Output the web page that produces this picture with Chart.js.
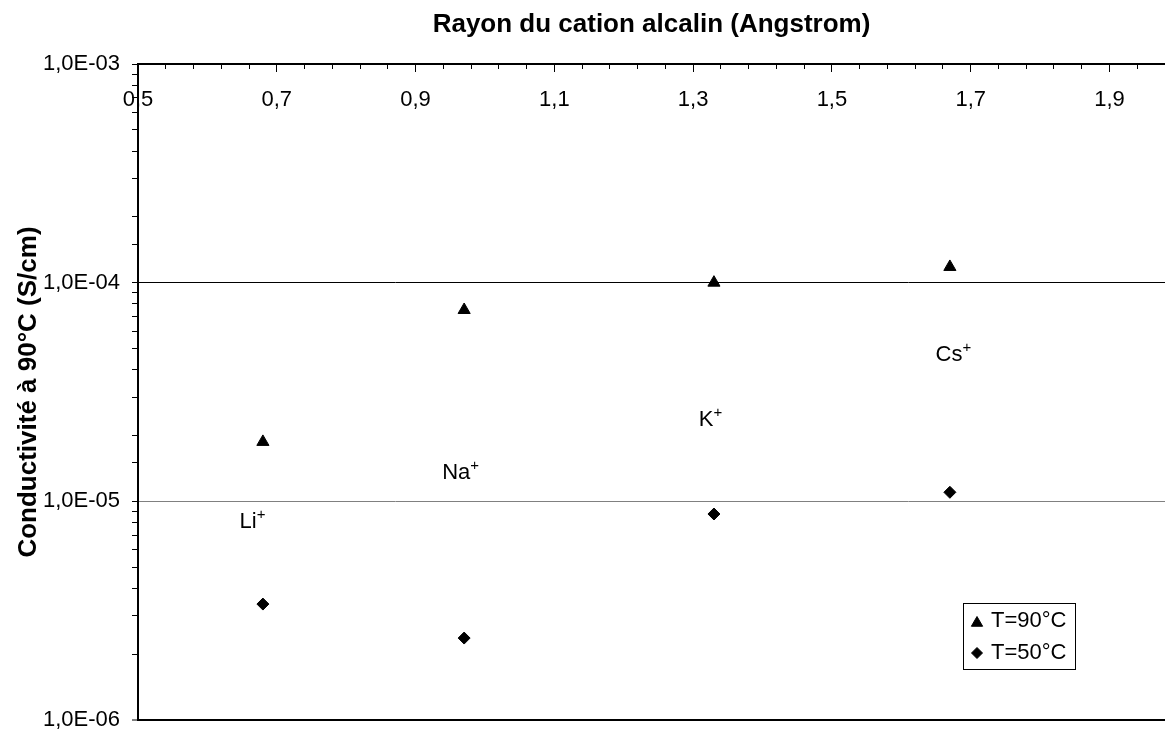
<!DOCTYPE html>
<html>
<head>
<meta charset="utf-8">
<title>Conductivité</title>
<script src="https://cdn.jsdelivr.net/npm/chart.js@4/dist/chart.umd.min.js"></script>
<style>
  html, body { margin: 0; padding: 0; background: #fff; }
  canvas { display: block; }
</style>
</head>
<body>
<canvas id="conductChart" width="1165" height="729"></canvas>
<script>
// rayon ionique des cations (Angstrom)
const cations = ['Li', 'Na', 'K', 'Cs'];
const rayons = [0.68, 0.97, 1.33, 1.67];
// conductivité (S/cm)
const cond90 = [1.87e-5, 7.5e-5, 1.0e-4, 1.18e-4];
const cond50 = [3.39e-6, 2.37e-6, 8.75e-6, 1.10e-5];
// position des étiquettes des cations (coordonnées des axes)
const labelX = [0.665, 0.965, 1.325, 1.675];
const labelY = [8.05e-6, 1.35e-5, 2.36e-5, 4.67e-5];
// graduations de l'axe des x
const xMin = 0.5, xMax = 1.98;
const xMajorTicks = [0.5, 0.7, 0.9, 1.1, 1.3, 1.5, 1.7, 1.9];
const xMinorStep = 0.04;

const FONT = "'Liberation Sans', Arial, Helvetica, sans-serif";
Chart.defaults.font.family = FONT;
Chart.defaults.color = '#000';

const xMinorTicks = [];
for (let v = xMin; v <= xMax + 1e-9; v += xMinorStep) xMinorTicks.push(Math.round(v * 100) / 100);

const isDecade = v => Math.abs(Math.log10(v) - Math.round(Math.log10(v))) < 1e-9;
const sciLabel = v => {
  const e = Math.round(Math.log10(v));
  return '1,0E' + (e < 0 ? '-' : '+') + String(Math.abs(e)).padStart(2, '0');
};

// étiquettes Li+, Na+, ... avec exposant
const cationLabels = {
  id: 'cationLabels',
  afterDatasetsDraw(chart) {
    const {ctx, scales: {x, y}} = chart;
    ctx.save();
    ctx.fillStyle = '#000';
    ctx.textBaseline = 'middle';
    ctx.textAlign = 'left';
    cations.forEach((name, i) => {
      const px = x.getPixelForValue(labelX[i]);
      const py = y.getPixelForValue(labelY[i]);
      ctx.font = '22px ' + FONT;
      const w1 = ctx.measureText(name).width;
      ctx.font = '15px ' + FONT;
      const w2 = ctx.measureText('+').width;
      const left = px - (w1 + w2) / 2;
      ctx.font = '22px ' + FONT;
      ctx.fillText(name, left, py);
      ctx.font = '15px ' + FONT;
      ctx.fillText('+', left + w1, py - 7);
    });
    ctx.restore();
  }
};

// légende encadrée en bas à droite
const boxLegend = {
  id: 'boxLegend',
  afterDraw(chart) {
    const {ctx} = chart;
    const bx = 963, by = 603, bw = 112, bh = 66;
    ctx.save();
    ctx.fillStyle = '#fff';
    ctx.fillRect(bx, by, bw, bh);
    ctx.strokeStyle = '#000';
    ctx.lineWidth = 1;
    ctx.strokeRect(bx + 0.5, by + 0.5, bw, bh);
    chart.data.datasets.forEach((ds, i) => {
      const cy = by + 18 + i * 32;
      ctx.fillStyle = '#000';
      ctx.strokeStyle = '#000';
      ctx.lineWidth = 1;
      Chart.helpers.drawPoint(ctx, {
        pointStyle: ds.pointStyle,
        radius: ds.pointStyle === 'triangle' ? 6.5 : 5.5,
        rotation: 0,
        borderWidth: 1
      }, bx + 14, cy + (ds.pointStyle === 'triangle' ? 2 : 0));
      ctx.font = '22px ' + FONT;
      ctx.textBaseline = 'middle';
      ctx.textAlign = 'left';
      ctx.fillText(ds.label, bx + 28, cy);
    });
    ctx.restore();
  }
};

const ctx = document.getElementById('conductChart').getContext('2d');
const conductChart = new Chart(ctx, {
  type: 'scatter',
  data: {
    datasets: [{
      label: 'T=90°C',
      data: rayons.map((r, i) => ({x: r, y: cond90[i]})),
      pointStyle: 'triangle',
      pointRadius: 7,
      pointHoverRadius: 7,
      backgroundColor: '#000',
      borderColor: '#000',
      borderWidth: 1
    }, {
      label: 'T=50°C',
      data: rayons.map((r, i) => ({x: r, y: cond50[i]})),
      pointStyle: 'rectRot',
      pointRadius: 6,
      pointHoverRadius: 6,
      backgroundColor: '#000',
      borderColor: '#000',
      borderWidth: 1
    }]
  },
  options: {
    responsive: false,
    animation: false,
    layout: {autoPadding: false, padding: {left: 0, top: 0, right: 0, bottom: 9}},
    plugins: {
      legend: {display: false},
      tooltip: {enabled: false}
    },
    scales: {
      x: {
        type: 'linear',
        position: 'top',
        weight: 1,
        min: xMin,
        max: xMax,
        afterBuildTicks: s => { s.ticks = xMajorTicks.map(v => ({value: v})); },
        afterFit: s => { s.height = 64; s.paddingLeft = 0; s.paddingRight = 0; },
        ticks: {
          mirror: true,
          padding: 23,
          autoSkip: false,
          maxRotation: 0,
          font: {size: 22},
          callback: v => v.toFixed(1).replace('.', ',')
        },
        grid: {drawOnChartArea: false, tickLength: -8, tickColor: '#000', tickWidth: 1},
        border: {display: true, color: '#000', width: 2},
        title: {
          display: true,
          text: 'Rayon du cation alcalin (Angstrom)',
          font: {size: 26, weight: 'bold'},
          padding: {top: 9, bottom: 0}
        }
      },
      x2: {
        type: 'linear',
        position: 'top',
        weight: 0,
        min: xMin,
        max: xMax,
        afterBuildTicks: s => { s.ticks = xMinorTicks.map(v => ({value: v})); },
        afterFit: s => { s.height = 0; s.paddingLeft = 0; s.paddingRight = 0; },
        ticks: {display: false},
        grid: {drawOnChartArea: false, tickLength: -5, tickColor: '#000', tickWidth: 1},
        border: {display: false}
      },
      y: {
        type: 'logarithmic',
        position: 'left',
        min: 1e-6,
        max: 1e-3,
        afterFit: s => { s.width = 138; s.paddingTop = 0; s.paddingBottom = 0; },
        ticks: {
          autoSkip: false,
          padding: 12,
          font: {size: 22},
          callback: v => isDecade(v) ? sciLabel(v) : ''
        },
        grid: {
          color: c => {
            const v = c.tick && c.tick.value;
            if (!v || !isDecade(v) || v >= 1e-3) return 'rgba(0,0,0,0)';
            return Math.abs(v - 1e-5) < 1e-12 ? '#808080' : '#000';
          },
          lineWidth: c => (c.tick && Math.abs(c.tick.value - 1e-6) < 1e-12) ? 2 : 1,
          tickLength: 6,
          tickColor: '#000',
          tickWidth: 1
        },
        border: {display: true, color: '#000', width: 2},
        title: {
          display: true,
          text: 'Conductivité à 90°C (S/cm)',
          font: {size: 26, weight: 'bold'},
          padding: {top: 13, bottom: 0}
        }
      }
    }
  },
  plugins: [cationLabels, boxLegend]
});
</script>
</body>
</html>
